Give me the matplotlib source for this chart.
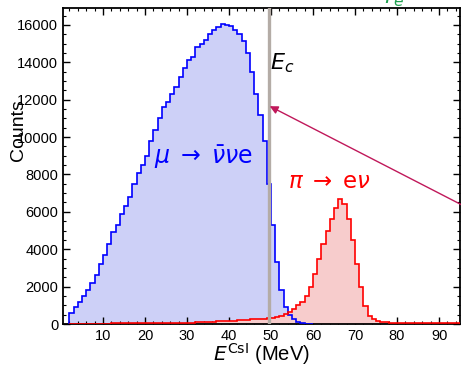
import numpy as np
import matplotlib
matplotlib.use("Agg")
import matplotlib.pyplot as plt
from matplotlib.ticker import MultipleLocator

# ---- data (1 MeV bins) ----
blue_start = 2
blue_counts = [600, 900, 1200, 1500, 1800, 2200, 2600, 3200, 3700, 4300,
               4900, 5300, 5900, 6300, 6800, 7500, 8100, 8500, 9000, 9800,
               10400, 11000, 11600, 11900, 12300, 12700, 13200, 13700, 14100, 14300,
               14800, 15000, 15200, 15500, 15700, 15900, 16050, 16000, 15950, 15750,
               15500, 15150, 14500, 13500, 12300, 11200, 9800, 7500, 5300, 3300,
               1800, 900, 500, 250, 120, 50, 20, 5]

red_start = 2
red_counts = [20, 20, 20, 20, 20, 20, 20, 20, 25, 25,            # 2-11
              30, 30, 30, 30, 30, 35, 35, 40, 40, 45,            # 12-21
              50, 50, 55, 55, 60, 60, 65, 70, 75, 80,            # 22-31
              90, 100, 110, 120, 130, 140, 150, 160, 170, 180,   # 32-41
              200, 215, 230, 245, 260, 275, 290, 310, 340, 380,  # 42-51
              430, 560, 650, 800, 1000, 1200, 1500, 2000, 2700, 3500,  # 52-61
              4300, 5000, 5600, 6200, 6700, 6400, 5600, 4500, 3200, 2000,  # 62-71
              950, 450, 250, 150, 100, 85, 80, 80, 75, 75,       # 72-81
              70, 70, 70, 65, 65, 65, 60, 60, 60, 60, 60, 60, 60]  # 82-94

E_cut = 49.5
xlim = (0.5, 95)
ylim = (0, 16900)
xticks = [10, 20, 30, 40, 50, 60, 70, 80, 90]
yticks = [0, 2000, 4000, 6000, 8000, 10000, 12000, 14000, 16000]

plt.rcParams['font.family'] = ['Liberation Sans', 'DejaVu Sans']

fig = plt.figure(figsize=(4.61, 3.65), dpi=100)
ax = fig.add_axes([0.1367, 0.1123, 0.8613, 0.8657])

bedges = np.arange(blue_start, blue_start + len(blue_counts) + 1)
redges = np.arange(red_start, red_start + len(red_counts) + 1)

ax.stairs(blue_counts, bedges, baseline=0, fill=True, color='#cdd0f7', zorder=1)
ax.stairs(red_counts, redges, baseline=0, fill=True, color='#f7cccc', zorder=2)
ax.stairs(blue_counts, bedges, baseline=0, fill=False, color='#0000ff', lw=1.2, zorder=3)
ax.stairs(red_counts, redges, baseline=0, fill=False, color='#ff0000', lw=1.2, zorder=4)

ax.axvline(E_cut, color='#b4aca6', lw=2.4, zorder=5)

ax.set_xlim(*xlim)
ax.set_ylim(*ylim)
ax.set_xticks(xticks)
ax.set_yticks(yticks)
ax.xaxis.set_minor_locator(MultipleLocator(2))
ax.yaxis.set_minor_locator(MultipleLocator(500))
ax.tick_params(which='both', direction='in', top=True, right=True, labelsize=10.5)
ax.tick_params(which='major', length=5, width=1)
ax.tick_params(which='minor', length=2.5, width=0.8)
for s in ax.spines.values():
    s.set_linewidth(1.3)

ax.set_ylabel('Counts', fontsize=14)
ax.yaxis.set_label_coords(-0.09, 0.614)
ax.set_xlabel(r'$E^{\mathrm{CsI}}$ (MeV)', fontsize=14.5, labelpad=-1)

ax.text(49.8, 13950, r'$E_c$', fontsize=16, va='center', ha='left', zorder=6)
ax.text(34.0, 8935, r'$\mu\;\rightarrow\;\bar{\nu}\nu\mathrm{e}$', fontsize=17,
        color='#0000ff', ha='center', va='center', zorder=6)
ax.text(63.8, 7600, r'$\pi\;\rightarrow\;\mathrm{e}\nu$', fontsize=16.5,
        color='#ff0000', ha='center', va='center', zorder=6)

ax.annotate('', xy=(49.7, 11650), xytext=(100, 5840),
            arrowprops=dict(arrowstyle='-|>', color='#c0185a', lw=1.0,
                            mutation_scale=12, shrinkA=0, shrinkB=0),
            annotation_clip=False, zorder=7)

fig.text(0.833, 0.992, r'$r_e$', fontsize=16, color='#20a050', ha='left', va='baseline')

fig.savefig('out.png', dpi=100)
